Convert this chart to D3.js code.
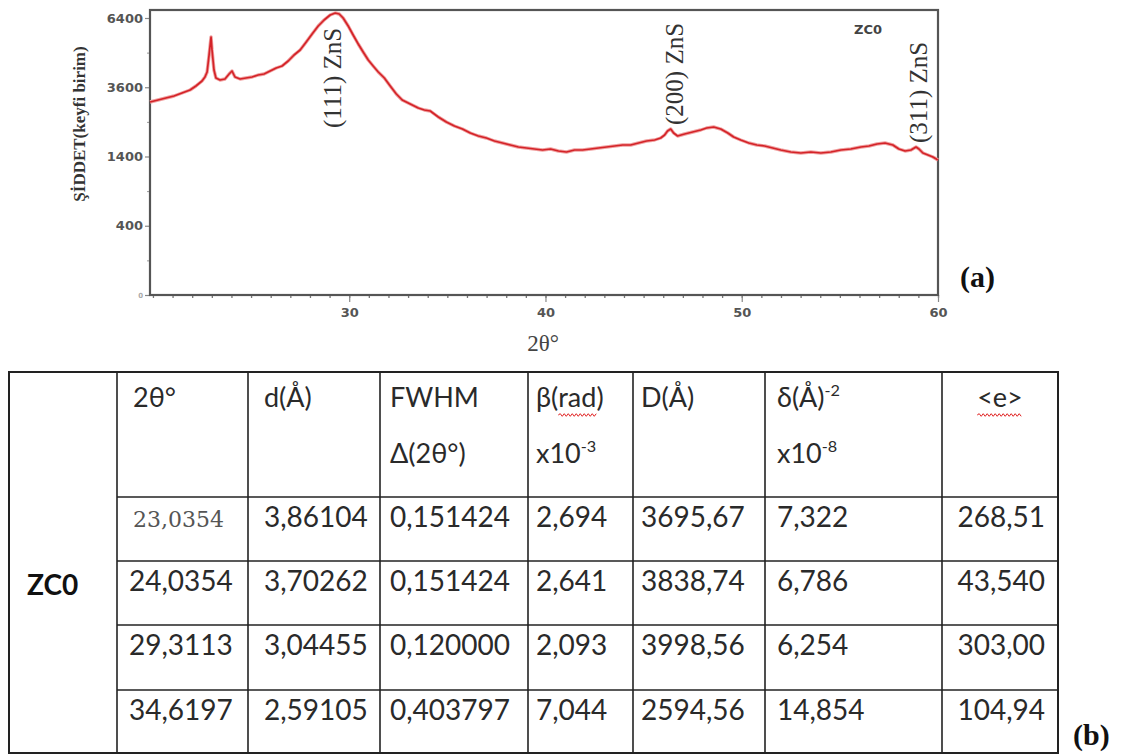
<!DOCTYPE html>
<html>
<head>
<meta charset="utf-8">
<script src="https://cdn.jsdelivr.net/npm/d3@7"></script>
<style>
  body { margin: 0; background: #fff; }
  svg { display: block; }
</style>
</head>
<body>
<div class="container"></div>
<script>
// XRD pattern (a) : 2theta vs intensity
const angle = [19.85,20.26,20.66,21.07,21.48,21.89,22.19,22.50,22.65,22.76,22.86,22.96,23.01,23.11,23.21,23.42,23.67,23.88,24.03,24.18,
  24.44,24.74,25.05,25.36,25.66,25.97,26.28,26.58,26.89,27.19,27.50,27.81,28.11,28.42,28.72,29.03,29.29,29.49,29.69,29.95,
  30.20,30.46,30.71,30.97,31.22,31.48,31.79,32.09,32.40,32.70,33.11,33.52,33.83,34.13,34.54,34.95,35.36,35.77,36.17,36.58,
  36.99,37.40,37.81,38.21,38.62,39.03,39.44,39.85,40.26,40.66,41.07,41.48,41.89,42.30,42.70,43.11,43.52,43.93,44.34,44.74,
  45.15,45.56,45.87,46.07,46.22,46.38,46.53,46.73,47.09,47.50,47.91,48.21,48.57,48.93,49.29,49.59,49.95,50.36,50.77,51.17,
  51.58,51.99,52.50,53.01,53.52,54.03,54.54,55.05,55.56,56.07,56.48,56.89,57.30,57.70,58.01,58.32,58.62,58.88,59.03,59.23,
  59.49,59.74,60.00];
const intensity = [3107,3172,3237,3303,3403,3505,3643,3820,3964,4148,4804,5552,5007,4223,3927,3855,3891,4074,4185,3964,
  3891,3927,3964,4037,4074,4185,4298,4374,4567,4804,5007,5339,5682,6035,6307,6539,6633,6586,6400,6035,
  5638,5255,4925,4606,4374,4148,3927,3643,3370,3172,3043,2917,2855,2824,2643,2496,2382,2298,2189,2109,
  2056,1978,1927,1877,1827,1802,1778,1754,1778,1730,1706,1754,1754,1778,1802,1827,1852,1877,1877,1927,
  1978,2004,2056,2135,2243,2298,2189,2109,2162,2216,2271,2326,2354,2298,2189,2082,2004,1927,1877,1852,
  1802,1754,1706,1682,1706,1682,1706,1754,1778,1827,1852,1902,1927,1877,1778,1730,1754,1827,1778,1682,
  1635,1588,1520];

const xTicks = [30, 40, 50, 60];
const yTicks = [0, 400, 1600, 3600, 6400];
const yTickLabels = ['0', '400', '1400', '3600', '6400'];
const yMinor = [100, 900, 2500, 4900];

// peak annotations: [label, 2theta, intensity at foot of label]
const peakLabels = [['(111) ZnS', 29.6, 2326], ['(200) ZnS', 47.0, 2410], ['(311) ZnS', 59.45, 1927]];

// table (b)
const twoTheta = ['23,0354', '24,0354', '29,3113', '34,6197'];
const dSpacing = ['3,86104', '3,70262', '3,04455', '2,59105'];
const fwhm = ['0,151424', '0,151424', '0,120000', '0,403797'];
const beta = ['2,694', '2,641', '2,093', '7,044'];
const crystalD = ['3695,67', '3838,74', '3998,56', '2594,56'];
const delta = ['7,322', '6,786', '6,254', '14,854'];
const strain = ['268,51', '43,540', '303,00', '104,94'];
const sampleName = 'ZC0';
// header lines: [text, superscript]
const headers = [
  [['2θ°', '']],
  [['d(Å)', '']],
  [['FWHM', ''], ['Δ(2θ°)', '']],
  [['β(rad)', ''], ['x10', '-3']],
  [['D(Å)', '']],
  [['δ(Å)', '-2'], ['x10', '-8']],
  [['<e>', '']]
];

const W = 1124, H = 756;
const svg = d3.select('.container')
  .append('svg')
  .attr('width', W)
  .attr('height', H);

// ---------- plot (a) ----------
const pLeft = 150, pRight = 938, pTop = 10, pBottom = 295;
const x = d3.scaleLinear().domain([19.85, 60]).range([pLeft, pRight]);
const y = d3.scaleSqrt().domain([0, 6775]).range([pBottom, pTop]);

const axisColor = '#555';

// minor x ticks every degree
const gx = svg.append('g').attr('transform', `translate(0,${pBottom})`);
gx.call(d3.axisBottom(x).tickValues(d3.range(20, 61)).tickSize(3).tickFormat(''))
  .call(g => g.select('.domain').remove());
gx.selectAll('line').attr('stroke', '#777').attr('stroke-width', 1.3);

const gx2 = svg.append('g').attr('transform', `translate(0,${pBottom})`);
gx2.call(d3.axisBottom(x).tickValues(xTicks).tickSize(7).tickPadding(6).tickFormat(d3.format('d')))
  .call(g => g.select('.domain').remove());
gx2.selectAll('line').attr('stroke', '#888').attr('stroke-width', 1.2);
gx2.selectAll('text')
  .attr('font-family', 'DejaVu Sans')
  .attr('font-weight', 'bold')
  .attr('font-size', 13)
  .attr('fill', '#555');

const gy = svg.append('g').attr('transform', `translate(${pLeft},0)`);
gy.call(d3.axisLeft(y).tickValues(yTicks).tickSize(5).tickPadding(2).tickFormat((d, i) => yTickLabels[i]))
  .call(g => g.select('.domain').remove());
gy.selectAll('line').attr('stroke', '#888').attr('stroke-width', 1.2);
gy.selectAll('text')
  .attr('font-family', 'DejaVu Sans')
  .attr('font-weight', 'bold')
  .attr('font-size', 13)
  .attr('fill', '#555');
gy.selectAll('.tick').filter(d => d === 0).select('text')
  .attr('font-size', 7).attr('fill', '#aaa');

const gyMinor = svg.append('g').attr('transform', `translate(${pLeft},0)`);
gyMinor.call(d3.axisLeft(y).tickValues(yMinor).tickSize(3).tickFormat(''))
  .call(g => g.select('.domain').remove());
gyMinor.selectAll('line').attr('stroke', '#999');

// frame
svg.append('rect')
  .attr('x', pLeft).attr('y', pTop)
  .attr('width', pRight - pLeft).attr('height', pBottom - pTop)
  .attr('fill', 'none')
  .attr('stroke', axisColor)
  .attr('stroke-width', 2.2);

// curve
const points = angle.map((a, i) => [a, intensity[i]]);
const line = d3.line().x(d => x(d[0])).y(d => y(d[1]));
svg.append('path')
  .datum(points)
  .attr('d', line)
  .attr('fill', 'none')
  .attr('stroke', '#f0a0a0')
  .attr('stroke-width', 3.4)
  .attr('stroke-linejoin', 'round');
svg.append('path')
  .datum(points)
  .attr('d', line)
  .attr('fill', 'none')
  .attr('stroke', '#d42328')
  .attr('stroke-width', 1.7)
  .attr('stroke-linejoin', 'round');

// peak labels
svg.selectAll('.peak')
  .data(peakLabels)
  .enter()
  .append('text')
  .attr('class', 'peak')
  .attr('transform', d => `translate(${x(d[1])},${y(d[2])}) rotate(-90)`)
  .attr('font-family', 'Liberation Serif')
  .attr('font-size', 25)
  .attr('fill', '#333')
  .text(d => d[0]);

svg.append('text')
  .attr('x', 868).attr('y', 34)
  .attr('text-anchor', 'middle')
  .attr('font-family', 'DejaVu Sans')
  .attr('font-weight', 'bold')
  .attr('font-size', 13)
  .attr('fill', '#444')
  .text(sampleName);

svg.append('text')
  .attr('x', (pLeft + pRight) / 2 - 1).attr('y', 351)
  .attr('text-anchor', 'middle')
  .attr('font-family', 'Liberation Serif')
  .attr('font-size', 23)
  .attr('fill', '#444')
  .text('2θ°');

svg.append('text')
  .attr('transform', 'translate(85,124) rotate(-90)')
  .attr('text-anchor', 'middle')
  .attr('font-family', 'Liberation Serif')
  .attr('font-weight', 'bold')
  .attr('font-size', 17)
  .attr('fill', '#333')
  .text('ŞİDDET(keyfi birim)');

svg.append('text')
  .attr('x', 960).attr('y', 287)
  .attr('font-family', 'Liberation Serif')
  .attr('font-weight', 'bold')
  .attr('font-size', 30)
  .attr('fill', '#111')
  .text('(a)');

// ---------- table (b) ----------
const colX = [9, 117, 248, 380, 528, 633, 765, 942, 1058];
const rowY = [372, 497, 561, 625, 690, 753];
const pad = [12, 16, 10, 8, 8, 12, 13];
const tableFont = 'Lato';
const fs = 28;
const textColor = '#2a2a2a';
const columns = [twoTheta, dSpacing, fwhm, beta, crystalD, delta, strain];

const tb = svg.append('g');
// outer border
tb.append('rect')
  .attr('x', colX[0]).attr('y', rowY[0])
  .attr('width', colX[8] - colX[0]).attr('height', rowY[5] - rowY[0])
  .attr('fill', 'none').attr('stroke', '#222').attr('stroke-width', 2);
// vertical lines
tb.selectAll('.vl')
  .data(colX.slice(1, 8))
  .enter().append('line')
  .attr('x1', d => d).attr('x2', d => d)
  .attr('y1', rowY[0]).attr('y2', rowY[5])
  .attr('stroke', '#222').attr('stroke-width', 1.6);
// horizontal lines (not through the sample column)
tb.selectAll('.hl')
  .data(rowY.slice(1, 5))
  .enter().append('line')
  .attr('x1', colX[1]).attr('x2', colX[8])
  .attr('y1', d => d).attr('y2', d => d)
  .attr('stroke', '#222').attr('stroke-width', 1.6);

// header
const lineBase = [407, 463];
const headG = tb.append('g');
headers.forEach((lines, c) => {
  lines.forEach((ln, k) => {
    const t = headG.append('text')
      .attr('y', lineBase[k])
      .attr('font-family', tableFont)
      .attr('font-size', fs - 1)
      .attr('fill', textColor);
    if (c === 6) {
      t.attr('x', (colX[7] + colX[8]) / 2).attr('text-anchor', 'middle');
    } else {
      t.attr('x', colX[c + 1] + pad[c] + (c === 0 ? 4 : 0));
    }
    t.append('tspan').text(ln[0]);
    if (ln[1]) {
      t.append('tspan')
        .attr('font-size', fs * 0.58)
        .attr('dy', -11)
        .text(ln[1]);
    }
  });
});

// red spell-check squiggles under "rad" and "<e>"
function squiggle(x0, x1, yy) {
  const p = d3.path();
  p.moveTo(x0, yy);
  let up = true;
  for (let xx = x0 + 2; xx <= x1; xx += 2) {
    p.lineTo(xx, yy + (up ? -1.3 : 1.3));
    up = !up;
  }
  return p.toString();
}
headG.selectAll('text').each(function () {
  const s = this.textContent;
  if (s === 'β(rad)') {
    const x0 = this.getStartPositionOfChar(2).x;
    const x1 = this.getEndPositionOfChar(4).x;
    tb.append('path').attr('d', squiggle(x0, x1, 415)).attr('fill', 'none').attr('stroke', '#e02020').attr('stroke-width', 1);
  }
  if (s === '<e>') {
    const bb = this.getBBox();
    tb.append('path').attr('d', squiggle(bb.x, bb.x + bb.width, 415)).attr('fill', 'none').attr('stroke', '#e02020').attr('stroke-width', 1);
  }
});

// data cells
columns.forEach((vals, c) => {
  tb.selectAll('.c' + c)
    .data(vals)
    .enter().append('text')
    .attr('class', 'c' + c)
    .attr('x', (d, i) => c === 6 ? colX[8] - pad[6] : colX[c + 1] + pad[c] + ((c === 0 && i === 0) ? 4 : 0))
    .attr('y', (d, i) => rowY[i + 1] + 30)
    .attr('text-anchor', c === 6 ? 'end' : 'start')
    .attr('font-family', (d, i) => (c === 0 && i === 0) ? 'DejaVu Serif' : tableFont)
    .attr('font-size', (d, i) => (c === 0 && i === 0) ? 22 : fs)
    .attr('fill', (d, i) => (c === 0 && i === 0) ? '#555' : textColor)
    .text(d => d);
});

tb.append('text')
  .attr('x', 27).attr('y', 595)
  .attr('font-family', tableFont)
  .attr('font-weight', 'bold')
  .attr('font-size', fs)
  .attr('fill', '#111')
  .text(sampleName);

svg.append('text')
  .attr('x', 1073).attr('y', 745)
  .attr('font-family', 'Liberation Serif')
  .attr('font-weight', 'bold')
  .attr('font-size', 30)
  .attr('fill', '#111')
  .text('(b)');
</script>
</body>
</html>
